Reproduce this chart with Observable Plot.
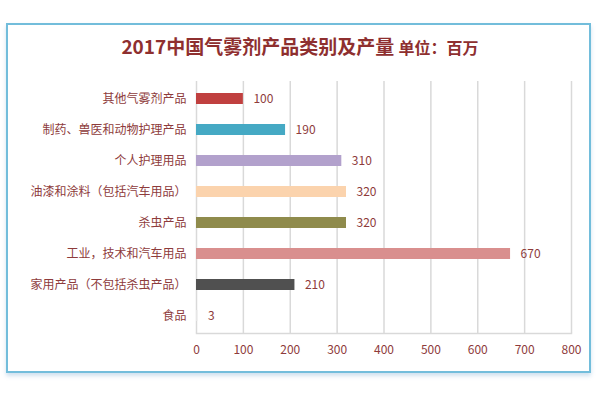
<!DOCTYPE html>
<html><head><meta charset="utf-8">
<script src="https://cdn.jsdelivr.net/npm/d3@7"></script>
<script src="https://cdn.jsdelivr.net/npm/@observablehq/plot@0.6"></script>
<style>
body{margin:0;background:#fff;font-family:"Noto Sans CJK SC","Noto Sans",sans-serif;}
#wrap{position:relative;width:600px;height:400px;}
#box{position:absolute;left:6px;top:23px;width:581px;height:346px;border:2px solid #72bddb;box-shadow:0 3px 4px rgba(120,170,210,0.35);}
#title{position:absolute;left:0;top:33px;width:600px;text-align:center;color:#8e2f2f;font-weight:bold;font-size:19px;line-height:26px;white-space:nowrap;}
#title span{font-size:16px;}
#chart{position:absolute;left:0;top:0;}
</style></head>
<body><div id="wrap"><div id="box"></div><div id="title">2017中国气雾剂产品类别及产量 <span>单位：百万</span></div><div id="chart"></div></div>
<script>
const categories = ["其他气雾剂产品","制药、兽医和动物护理产品","个人护理用品","油漆和涂料（包括汽车用品）","杀虫产品","工业，技术和汽车用品","家用产品（不包括杀虫产品）","食品"];
const values = [100,190,310,320,320,670,210,3];
const colors = ["#c0403f","#45a9c4","#b2a1cc","#fbd3ad","#8f8b4c","#d98f8e","#505050","#e6e6e6"];
const xTicks = [0,100,200,300,400,500,600,700,800];
const data = categories.map((c,i)=>({category:c,value:values[i],color:colors[i]}));
const txt = "#8e3b3b";
const chart = Plot.plot({
  width:600, height:400,
  marginLeft:196, marginRight:29, marginTop:81, marginBottom:67,
  style:{fontFamily:'"Noto Sans CJK SC","Noto Sans",sans-serif',fontSize:"12px",color:txt,background:"transparent"},
  x:{domain:[0,800], ticks:xTicks, tickSize:0, tickPadding:12, label:null},
  y:{domain:categories, tickSize:0, tickPadding:10, label:null, paddingInner:0.64, paddingOuter:0.32},
  marks:[
    Plot.ruleX(xTicks,{stroke:"#d9d9d9",strokeWidth:1.5}),
    Plot.frame({anchor:"bottom",stroke:"#d9d9d9",strokeWidth:1.5}),
    Plot.barX(data,{x:"value",y:"category",fill:"color"}),
    Plot.text(data,{x:"value",y:"category",text:d=>String(d.value),textAnchor:"start",dx:10,fill:txt,fontSize:12})
  ]
});
document.getElementById("chart").appendChild(chart);
</script></body></html>
